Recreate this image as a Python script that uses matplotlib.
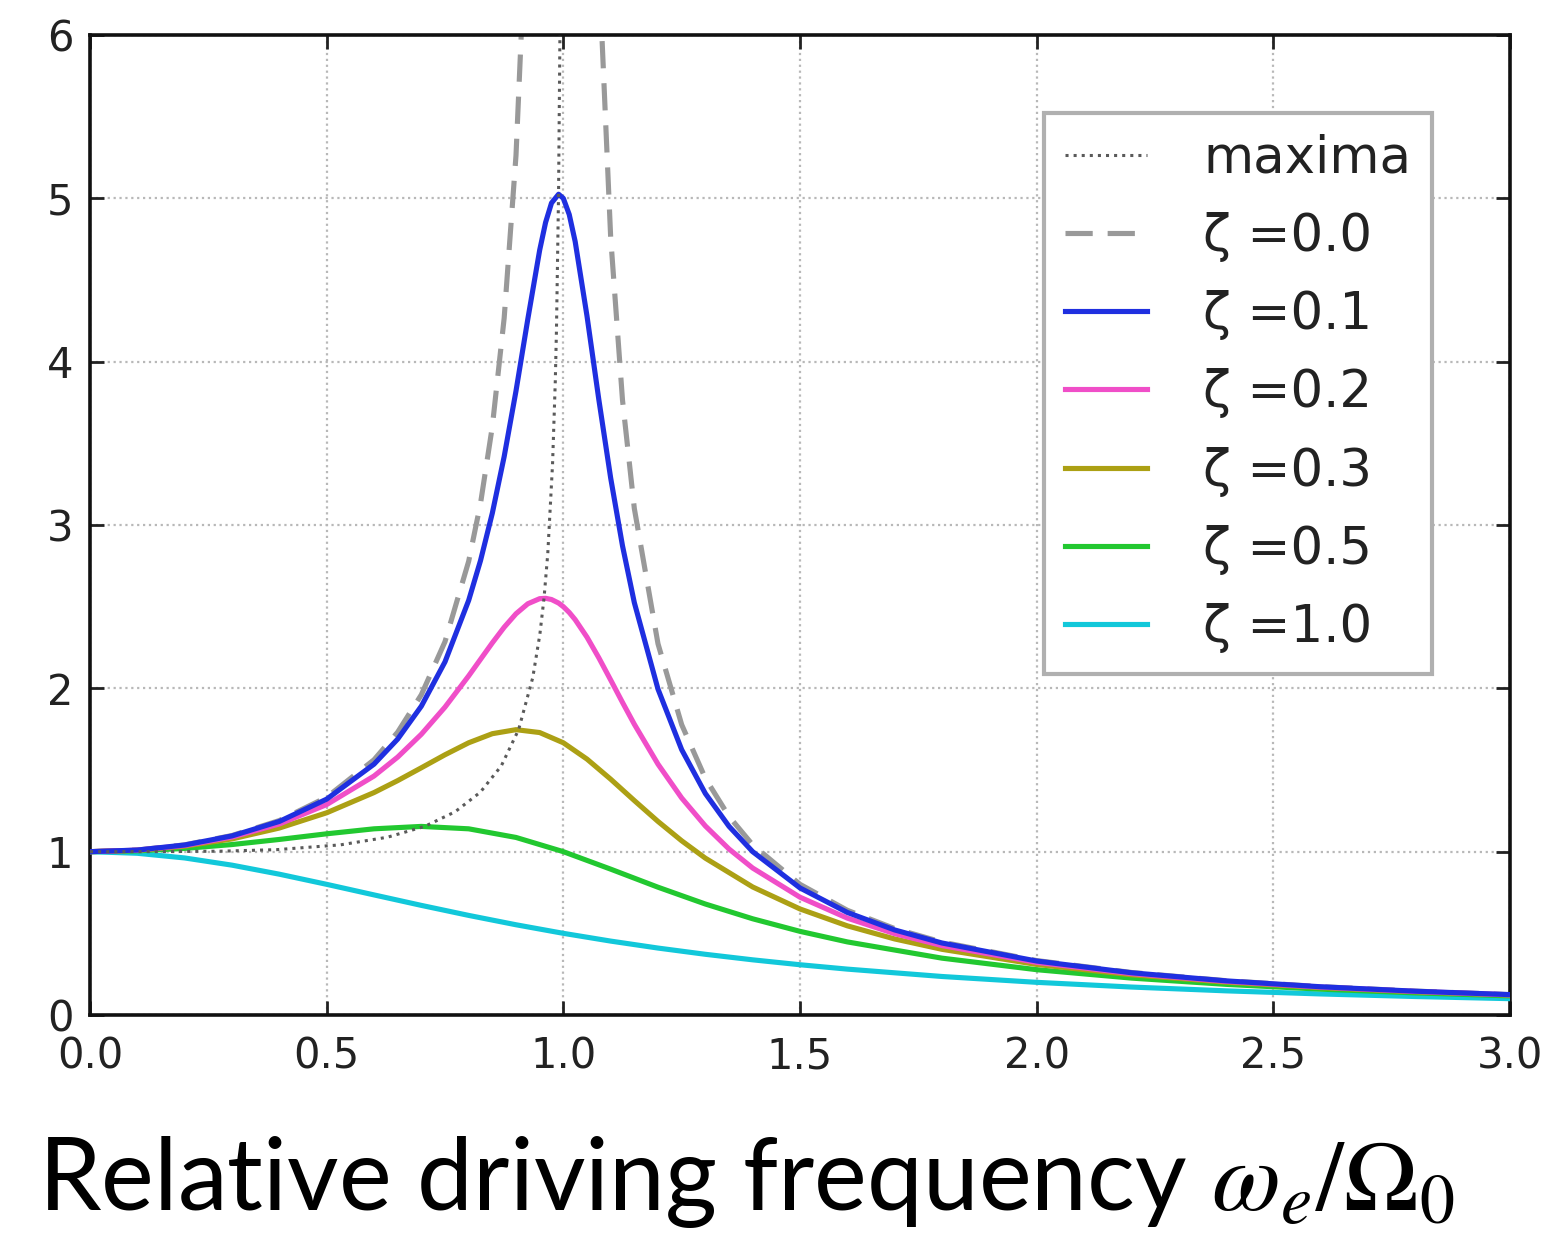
import matplotlib

matplotlib.use("Agg")
import matplotlib.pyplot as plt

# Amplitude ratio, per damping ratio.
FREQ_FINE = [0.0, 0.1, 0.2, 0.3, 0.4, 0.5, 0.6, 0.65, 0.7, 0.75, 0.8, 0.825, 0.85,
             0.875, 0.9, 0.925, 0.95, 0.9625, 0.975, 0.99, 1.0, 1.0125, 1.025, 1.05,
             1.075, 1.1, 1.125, 1.15, 1.2, 1.25, 1.3, 1.35, 1.4, 1.5, 1.6, 1.7, 1.8,
             2.0, 2.2, 2.4, 2.6, 2.8, 3.0]
AMP_Z01 = [1.0, 1.0099, 1.0408, 1.0965, 1.1851, 1.3216, 1.5357, 1.6893, 1.8908, 2.1622,
           2.5384, 2.7818, 3.0729, 3.4188, 3.8208, 4.2613, 4.6826, 4.8523, 4.9713, 5.0252,
           5.0, 4.9006, 4.7358, 4.2794, 3.7677, 3.2880, 2.8726, 2.5245, 1.9952, 1.6246,
           1.3562, 1.1552, 1.0, 0.7779, 0.6279, 0.5207, 0.4408, 0.3304, 0.2587, 0.2090,
           0.1729, 0.1457, 0.1247]
AMP_Z02 = [1.0, 1.0093, 1.0381, 1.0895, 1.1695, 1.2883, 1.4630, 1.5790, 1.7188, 1.8851,
           2.0761, 2.1775, 2.2786, 2.3740, 2.4566, 2.5178, 2.5490, 2.5512, 2.5438, 2.5221,
           2.5, 2.4644, 2.4206, 2.3131, 2.1868, 2.0511, 1.9137, 1.7800, 1.5357, 1.3287,
           1.1574, 1.0163, 0.8998, 0.7212, 0.5931, 0.4979, 0.4250, 0.3221, 0.2538, 0.2059,
           0.1709, 0.1443, 0.1236]

FREQ_UNDAMPED = [0.0, 0.1, 0.2, 0.3, 0.4, 0.5, 0.6, 0.65, 0.7, 0.75, 0.8, 0.825, 0.85,
                 0.875, 0.9, 0.925, 1.075, 1.1, 1.125, 1.15, 1.2, 1.25, 1.3, 1.35, 1.4,
                 1.5, 1.6, 1.7, 1.8, 2.0, 2.2, 2.4, 2.6, 2.8, 3.0]
AMP_Z00 = [1.0, 1.0101, 1.0417, 1.0989, 1.1905, 1.3333, 1.5625, 1.7316, 1.9608, 2.2857,
           2.7778, 3.1311, 3.6036, 4.2667, 5.2632, 6.9264, 6.4257, 4.7619, 3.7647, 3.1008,
           2.2727, 1.7778, 1.4493, 1.2158, 1.0417, 0.8, 0.6410, 0.5291, 0.4464, 0.3333,
           0.2604, 0.2101, 0.1736, 0.1462, 0.125]

FREQ_MID = [0.0, 0.1, 0.2, 0.3, 0.4, 0.5, 0.6, 0.65, 0.7, 0.75, 0.8, 0.85, 0.9, 0.95,
            1.0, 1.05, 1.1, 1.15, 1.2, 1.25, 1.3, 1.4, 1.5, 1.6, 1.7, 1.8, 2.0, 2.2,
            2.4, 2.6, 2.8, 3.0]
AMP_Z03 = [1.0, 1.0082, 1.0336, 1.0780, 1.1447, 1.2380, 1.3618, 1.4350, 1.5136, 1.5933,
           1.6667, 1.7223, 1.7469, 1.7293, 1.6667, 1.5667, 1.4438, 1.3129, 1.1851, 1.0667,
           0.9603, 0.7839, 0.6492, 0.5459, 0.4656, 0.4021, 0.3095, 0.2463, 0.2011, 0.1676,
           0.1420, 0.1220]

FREQ_COARSE = [0.0, 0.1, 0.2, 0.3, 0.4, 0.5, 0.6, 0.7, 0.8, 0.9, 1.0, 1.1, 1.2, 1.3,
               1.4, 1.5, 1.6, 1.8, 2.0, 2.2, 2.4, 2.6, 2.8, 3.0]
AMP_Z05 = [1.0, 1.0050, 1.0198, 1.0436, 1.0748, 1.1094, 1.1399, 1.1546, 1.1399, 1.0871,
           1.0, 0.8930, 0.7824, 0.6795, 0.5891, 0.5121, 0.4475, 0.3480, 0.2774, 0.2260,
           0.1876, 0.1582, 0.1353, 0.1170]
AMP_Z10 = [1.0, 0.9901, 0.9615, 0.9174, 0.8621, 0.8, 0.7353, 0.6711, 0.6098, 0.5525,
           0.5, 0.4525, 0.4098, 0.3717, 0.3378, 0.3077, 0.2809, 0.2358, 0.2, 0.1712,
           0.1479, 0.1289, 0.1131, 0.1]

# locus of the resonance peaks
MAX_FREQ = [0.0, 0.1414, 0.2742, 0.3937, 0.5292, 0.6285, 0.7071, 0.7714, 0.8246, 0.8689,
            0.9055, 0.9354, 0.9504, 0.9592, 0.9671, 0.9772, 0.9830, 0.9855, 0.9899,
            0.9936, 0.9964]
MAX_AMP = [1.0, 1.0002, 1.0028, 1.0122, 1.0417, 1.0885, 1.1547, 1.2442, 1.3639, 1.5250,
           1.7471, 2.0656, 2.3298, 2.5516, 2.8239, 3.3715, 3.8791, 4.1969, 5.0252,
           6.2701, 8.348]

XTICKS = [0.0, 0.5, 1.0, 1.5, 2.0, 2.5, 3.0]
YTICKS = [0, 1, 2, 3, 4, 5, 6]

plt.rcParams["font.family"] = ["DejaVu Sans"]
plt.rcParams["mathtext.fontset"] = "stix"

W, H = 1562, 1243
fig = plt.figure(figsize=(W / 100, H / 100), dpi=100)
ax = fig.add_axes([90 / W, 1 - 1015 / H, 1420 / W, 980 / H])

ax.plot(MAX_FREQ, MAX_AMP, ls=":", color="#5a5a5a", lw=2.2, label="maxima", zorder=9)
ax.plot(FREQ_UNDAMPED, AMP_Z00, color="#999999", lw=3.7, dashes=(5.3, 2.9),
        label="ζ =0.0", zorder=2)
ax.plot(FREQ_FINE, AMP_Z01, color="#1f2fe0", lw=3.7, label="ζ =0.1", zorder=8)
ax.plot(FREQ_FINE, AMP_Z02, color="#f04ec8", lw=3.7, label="ζ =0.2", zorder=7)
ax.plot(FREQ_MID, AMP_Z03, color="#aca014", lw=3.7, label="ζ =0.3", zorder=6)
ax.plot(FREQ_COARSE, AMP_Z05, color="#22c830", lw=3.7, label="ζ =0.5", zorder=5)
ax.plot(FREQ_COARSE, AMP_Z10, color="#12c8da", lw=3.7, label="ζ =1.0", zorder=4)

ax.set_xlim(0, 3)
ax.set_ylim(0, 6)
ax.set_xticks(XTICKS)
ax.set_xticklabels([f"{v:.1f}" for v in XTICKS])
ax.set_yticks(YTICKS)
ax.set_yticklabels([str(v) for v in YTICKS])
ax.tick_params(direction="in", top=True, right=True, length=10, width=2,
               labelsize=30, colors="#222222")
ax.tick_params(axis="x", pad=15)
ax.tick_params(axis="y", pad=12)
for sp in ax.spines.values():
    sp.set_linewidth(2.6)
    sp.set_color("#111111")
ax.grid(True, ls=":", color="#b8b8b8", lw=1.6)
ax.set_axisbelow(True)

leg = ax.legend(loc="upper right", bbox_to_anchor=((1432 - 90) / 1420, (1015 - 113) / 980),
                borderaxespad=0, fontsize=37, handlelength=1.6, handletextpad=1.1,
                labelspacing=0.55, borderpad=0.4, fancybox=False, framealpha=1)
leg.get_frame().set_edgecolor("#b0b0b0")
leg.get_frame().set_linewidth(3)
for t in leg.get_texts():
    t.set_color("#222222")

fig.text(38 / W, 1 - 1210 / H, r"Relative driving frequency $\omega_e/\Omega_0$",
         fontsize=72, family=["Lato", "DejaVu Sans"], color="black",
         ha="left", va="baseline")

fig.savefig("out.png", dpi=100)
